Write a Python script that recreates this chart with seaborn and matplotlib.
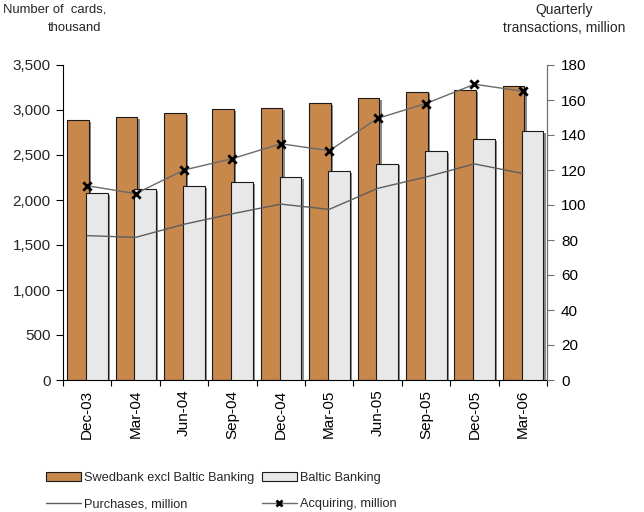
import numpy as np
import pandas as pd
import matplotlib
matplotlib.use("Agg")
import matplotlib.pyplot as plt
import matplotlib.patheffects as pe
from matplotlib.lines import Line2D
from matplotlib.patches import Patch
from matplotlib.ticker import FuncFormatter, MultipleLocator, FixedLocator
import seaborn as sns

# Quarter labels
quarters = ["Dec-03", "Mar-04", "Jun-04", "Sep-04", "Dec-04",
            "Mar-05", "Jun-05", "Sep-05", "Dec-05", "Mar-06"]

# Number of cards, thousand (left axis)
swedbank_cards = [2885, 2925, 2970, 3015, 3025, 3075, 3130, 3205, 3220, 3265]
baltic_cards = [2075, 2120, 2150, 2195, 2260, 2320, 2405, 2540, 2675, 2765]

# Quarterly transactions, million (right axis)
purchases = [82.5, 81.5, 89.0, 95.0, 100.5, 97.5, 109.5, 116.0, 123.5, 118.0]
acquiring = [111.0, 106.5, 120.0, 126.5, 135.0, 131.0, 149.5, 158.0, 169.0, 165.0]

series_names = ["Swedbank excl Baltic Banking", "Baltic Banking"]

ORANGE = "#C8874B"
LIGHT = "#E8E8E8"
LINE_GREY = "#5E5E5E"
FONT = "Liberation Sans"

sns.set_theme(style="white")
plt.rcParams["font.family"] = [FONT, "DejaVu Sans"]

cards = pd.DataFrame({
    "quarter": quarters * 2,
    "cards": swedbank_cards + baltic_cards,
    "segment": [series_names[0]] * len(quarters) + [series_names[1]] * len(quarters),
})
trans = pd.DataFrame({
    "pos": np.arange(len(quarters)),
    "purchases": purchases,
    "acquiring": acquiring,
})

fig = plt.figure(figsize=(6.44, 5.12), dpi=100)
ax = fig.add_axes([63 / 644, 1 - 380 / 512, (547 - 63) / 644, (380 - 65) / 512])

sns.barplot(data=cards, x="quarter", y="cards", hue="segment",
            order=quarters, hue_order=series_names,
            palette=[ORANGE, LIGHT], saturation=1, width=0.8, dodge=True,
            edgecolor="#1a1a1a", linewidth=0.8, legend=False, ax=ax)

# Slightly wider, overlapping bars with a soft drop shadow
bar_w = 0.45
offsets = [-0.19, 0.20]
shadow = [pe.SimplePatchShadow(offset=(1.6, -1.4), shadow_rgbFace="#8C8C8C", alpha=1.0),
          pe.Normal()]
for k, container in enumerate(ax.containers):
    for i, bar in enumerate(container.patches):
        bar.set_width(bar_w)
        bar.set_x(i + offsets[k] - bar_w / 2)
        bar.set_path_effects(shadow)
        bar.set_zorder(2 + k)

ax.set_xlim(-0.5, len(quarters) - 0.5)
ax.set_ylim(0, 3500)
ax.yaxis.set_major_locator(MultipleLocator(500))
ax.yaxis.set_major_formatter(FuncFormatter(lambda v, p: f"{v:,.0f}"))
ax.set_xlabel("")
ax.set_ylabel("")

ax.xaxis.set_minor_locator(FixedLocator(np.arange(-0.5, len(quarters), 1.0)))
ax.tick_params(axis="x", which="major", length=0, pad=7, labelsize=11,
               labelrotation=90, colors="black")
ax.tick_params(axis="x", which="minor", length=4, width=0.8, color="black",
               direction="out", bottom=True)
ax.tick_params(axis="y", which="major", length=5, width=0.8, color="black",
               direction="out", left=True, labelsize=11, pad=4)
for lbl in ax.get_xticklabels():
    lbl.set_verticalalignment("top")

for side in ["top", "right"]:
    ax.spines[side].set_visible(False)
for side in ["left", "bottom"]:
    ax.spines[side].set_color("black")
    ax.spines[side].set_linewidth(0.8)

ax2 = ax.twinx()
sns.lineplot(data=trans, x="pos", y="purchases", color=LINE_GREY, linewidth=1.0,
             ax=ax2, legend=False)
sns.lineplot(data=trans, x="pos", y="acquiring", color="#6A6A6A", linewidth=1.0,
             ax=ax2, legend=False)
sns.scatterplot(data=trans, x="pos", y="acquiring", marker="x", s=36,
                linewidth=2.0, color="black", zorder=5, ax=ax2, legend=False)
ax2.set_ylim(0, 180)
ax2.set_xlim(-0.5, len(quarters) - 0.5)
ax2.yaxis.set_major_locator(MultipleLocator(20))
ax2.set_xlabel("")
ax2.set_ylabel("")
ax2.tick_params(axis="y", which="major", length=5, width=0.8, color="#707070",
                direction="out", right=True, labelsize=11, pad=5, labelcolor="black")
for side in ["top", "left", "bottom"]:
    ax2.spines[side].set_visible(False)
ax2.spines["right"].set_color("#707070")
ax2.spines["right"].set_linewidth(0.9)
ax2.grid(False)
ax.grid(False)

# Axis titles above each scale
fig.text(3 / 644, 1 - 3 / 512, "Number of  cards,", ha="left", va="top", fontsize=9.4)
fig.text(101 / 644, 1 - 22 / 512, "thousand", ha="right", va="top", fontsize=9.4)
fig.text(564 / 644, 1 - 3 / 512, "Quarterly\ntransactions, million", ha="center",
         va="top", fontsize=10, linespacing=1.35, multialignment="center")

handles = [
    Patch(facecolor=ORANGE, edgecolor="#1a1a1a", linewidth=0.8),
    Line2D([], [], color=LINE_GREY, linewidth=1.0),
    Patch(facecolor=LIGHT, edgecolor="#1a1a1a", linewidth=0.8),
    Line2D([], [], color="#6A6A6A", linewidth=1.0, marker="x", markersize=5,
           markeredgewidth=2.0, markeredgecolor="black"),
]
labels = [series_names[0], "Purchases, million", series_names[1], "Acquiring, million"]
fig.legend(handles, labels, ncol=2, loc="upper left",
           bbox_to_anchor=(46 / 644, 1 - 472 / 512), frameon=False,
           borderaxespad=0, borderpad=0, handlelength=2.75, handleheight=0.65,
           handletextpad=0.25, columnspacing=0.55, labelspacing=1.1, fontsize=9.2)

fig.savefig("out.png", dpi=100)
